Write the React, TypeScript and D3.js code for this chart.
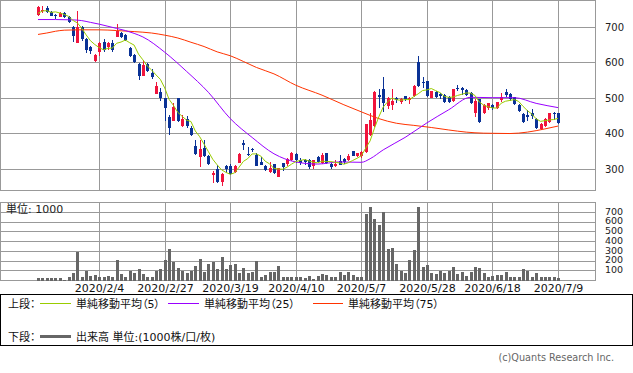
import React from 'react';
import * as d3 from 'd3';

// x-axis ticks: session index -> label
const tickIndex = [14, 29, 44, 59, 74, 89, 104, 119];
const tickLabels = ['2020/2/4', '2020/2/27', '2020/3/19', '2020/4/10', '2020/5/7', '2020/5/28', '2020/6/18', '2020/7/9'];

const priceTicks = [300, 400, 500, 600, 700];
const volumeTicks = [100, 200, 300, 400, 500, 600, 700];

// daily OHLC, 120 sessions
const opens = [
  736, 748, 754, 744, 736, 730, 739, 728, 700, 657,
  702, 667, 645, 605, 631, 659, 644, 657, 674, 683,
  679, 641, 622, 598, 563, 597, 572, 512, 518, 500,
  448, 437, 500, 422, 443, 417, 367, 334, 361, 338,
  285, 302, 265, 310, 310, 293, 319, 373, 344, 357,
  340, 321, 310, 292, 314, 279, 317, 314, 326, 343,
  326, 327, 326, 310, 336, 317, 345, 314, 309, 324,
  328, 327, 352, 338, 338, 348, 397, 422, 509, 525,
  478, 481, 500, 489, 506, 496, 506, 603, 547, 549,
  502, 519, 513, 509, 505, 493, 530, 529, 524, 515,
  459, 497, 459, 472, 481, 474, 495, 519, 512, 503,
  481, 456, 453, 459, 443, 413, 422, 434, 459, 458,
];
const highs = [
  760, 760, 759, 745, 738, 742, 742, 731, 704, 746,
  705, 669, 648, 626, 658, 666, 658, 665, 709, 687,
  682, 645, 625, 600, 608, 600, 583, 546, 528, 502,
  452, 486, 500, 452, 450, 423, 382, 383, 382, 341,
  296, 312, 290, 313, 314, 311, 345, 383, 364, 361,
  345, 335, 313, 321, 316, 305, 319, 331, 349, 347,
  331, 330, 328, 327, 337, 345, 347, 317, 326, 340,
  331, 342, 353, 347, 351, 429, 458, 520, 525, 559,
  505, 525, 505, 502, 508, 505, 537, 619, 559, 550,
  522, 522, 516, 511, 508, 527, 537, 531, 527, 519,
  497, 498, 484, 487, 484, 491, 514, 525, 514, 505,
  484, 458, 467, 471, 446, 432, 446, 459, 461, 459,
];
const lows = [
  733, 740, 741, 732, 723, 729, 727, 713, 660, 657,
  662, 629, 625, 603, 619, 631, 635, 630, 672, 670,
  662, 617, 600, 553, 562, 573, 555, 511, 493, 437,
  397, 435, 434, 420, 417, 393, 340, 306, 334, 312,
  261, 262, 253, 290, 285, 290, 317, 356, 337, 349,
  309, 311, 296, 289, 287, 278, 296, 309, 324, 318,
  312, 312, 302, 302, 318, 314, 314, 302, 307, 311,
  316, 325, 337, 335, 333, 345, 395, 420, 474, 463,
  470, 467, 486, 484, 494, 485, 504, 531, 530, 505,
  500, 502, 497, 486, 488, 490, 521, 509, 506, 483,
  448, 432, 457, 467, 467, 470, 490, 505, 494, 482,
  461, 430, 437, 443, 413, 410, 419, 432, 440, 428,
];
const closes = [
  757, 750, 744, 733, 734, 741, 730, 716, 676, 700,
  667, 636, 633, 622, 657, 636, 657, 636, 690, 674,
  664, 619, 603, 563, 594, 578, 561, 535, 500, 473,
  417, 476, 437, 443, 421, 397, 343, 357, 338, 315,
  289, 265, 287, 302, 288, 310, 343, 370, 341, 354,
  310, 312, 298, 304, 289, 303, 308, 328, 345, 327,
  317, 322, 308, 326, 320, 340, 317, 308, 314, 313,
  321, 338, 339, 345, 350, 428, 439, 519, 505, 487,
  500, 493, 496, 497, 497, 500, 535, 535, 543, 506,
  520, 505, 507, 491, 491, 525, 527, 524, 510, 487,
  493, 434, 481, 486, 472, 490, 503, 509, 497, 484,
  464, 434, 448, 450, 416, 429, 443, 458, 456, 432,
];
// volume, in 1000 shares
const volumes = [
  28, 21, 21, 21, 21, 21, 7, 31, 72, 292,
  41, 96, 45, 52, 41, 41, 45, 41, 206, 62,
  31, 96, 72, 120, 62, 34, 41, 100, 113, 206,
  320, 186, 131, 96, 76, 96, 144, 217, 86, 169,
  189, 113, 237, 113, 158, 169, 76, 124, 76, 86,
  200, 41, 52, 86, 86, 144, 34, 41, 41, 36,
  41, 24, 48, 17, 48, 62, 52, 31, 31, 83,
  52, 86, 52, 31, 31, 681, 753, 630, 568, 702,
  320, 330, 165, 96, 76, 206, 310, 753, 134, 155,
  76, 65, 93, 72, 96, 134, 62, 83, 45, 83,
  134, 124, 76, 31, 45, 52, 52, 83, 38, 41,
  41, 113, 96, 41, 72, 41, 41, 31, 31, 24,
];

// closes before the first visible session (read back from where the 5-day line starts)
const priorCloses = [716, 739, 757, 727];

// 25 / 75 day averages: [session index, value]
const ma25Pts: [number, number][] = [
  [0, 722], [4, 722], [8, 721], [10, 719], [12, 714], [14, 709], [16, 703], [18, 697],
  [20, 691], [22, 683], [24, 673], [29, 630], [34, 576], [39, 517], [44, 443], [49, 390],
  [54, 344], [59, 321], [64, 315], [69, 321], [74, 320], [76, 330], [79, 355], [84, 390],
  [89, 431], [94, 468], [99, 503], [104, 502], [109, 502], [114, 486], [119, 474],
];
const ma75Pts: [number, number][] = [
  [0, 680], [2, 684], [4, 689], [6, 692], [9, 693], [14, 693], [18, 691], [22, 688],
  [26, 684], [29, 678], [32, 670], [35, 658], [38, 646], [41, 631], [44, 620], [47, 604],
  [50, 587], [54, 569], [59, 537], [65, 509], [70, 482], [74, 462], [78, 443], [82, 430],
  [86, 424], [90, 418], [94, 411], [98, 405], [102, 402], [108, 401], [112, 405], [116, 414],
  [119, 422],
];

const FONT = "'DejaVu Sans', 'Noto Sans CJK JP', sans-serif";
const UP = '#f0143c';
const DOWN = '#0a3296';
const GRID = '#999999';
const C5 = '#99cc00';
const C25 = '#9900ff';
const C75 = '#ff3300';
const VOL = '#666666';

const x = d3.scaleLinear().domain([0, closes.length - 1]).range([38, 558]);
const yPrice = d3.scaleLinear().domain([242, 777]).range([190, 0]);
const yVol = d3.scaleLinear().domain([0, 800]).range([280.5, 202.5]);

const px = (v: number) => Math.round(v) + 0.5;
const py = (v: number) => Math.floor(v) + 0.5;

const withPrior = [...priorCloses, ...closes];
const ma5 = closes.map((_, i) => d3.mean(withPrior.slice(i, i + 5)) as number);

const line5 = d3.line<number>().x((_, i) => x(i)).y((v) => yPrice(v));
const linePts = d3
  .line<[number, number]>()
  .x((d) => x(d[0]))
  .y((d) => yPrice(d[1]))
  .curve(d3.curveMonotoneX);

export default function App() {
  const right = 595.5;
  return (
    <svg
      width={633}
      height={373}
      viewBox="0 0 633 373"
      style={{ position: 'absolute', left: 0, top: 0, background: '#fff', fontFamily: FONT }}
    >
      {/* price panel */}
      <g shapeRendering="crispEdges" stroke={GRID} strokeWidth={1}>
        {priceTicks.map((t) => (
          <line key={t} x1={0.5} x2={right} y1={py(yPrice(t))} y2={py(yPrice(t))} />
        ))}
        {tickIndex.map((t) => (
          <line key={t} x1={px(x(t))} x2={px(x(t))} y1={0.5} y2={190.5} />
        ))}
        <rect x={0.5} y={0.5} width={595} height={190} fill="none" />
      </g>

      {/* candles */}
      <g shapeRendering="crispEdges">
        {closes.map((c, i) => {
          const o = opens[i];
          const col = c >= o ? UP : DOWN;
          const cx = Math.round(x(i));
          const top = yPrice(Math.max(o, c));
          const h = Math.max(1, Math.abs(yPrice(o) - yPrice(c)));
          return (
            <g key={i}>
              <line x1={cx + 0.5} x2={cx + 0.5} y1={yPrice(highs[i])} y2={yPrice(lows[i])} stroke={col} />
              <rect x={cx - 1} y={top} width={3} height={h} fill={col} />
            </g>
          );
        })}
      </g>

      {/* moving averages */}
      <path d={linePts(ma75Pts) || ''} fill="none" stroke={C75} strokeWidth={1} />
      <path d={linePts(ma25Pts) || ''} fill="none" stroke={C25} strokeWidth={1} />
      <path d={line5(ma5) || ''} fill="none" stroke={C5} strokeWidth={1} />

      {priceTicks.map((t) => (
        <text key={t} x={605} y={yPrice(t)} dy="0.36em" fontSize={10} fill="#222">
          {t}
        </text>
      ))}

      {/* volume panel */}
      <g shapeRendering="crispEdges" stroke={GRID} strokeWidth={1}>
        {volumeTicks.map((t) => (
          <line key={t} x1={0.5} x2={right} y1={py(yVol(t))} y2={py(yVol(t))} />
        ))}
        {tickIndex.map((t) => (
          <line key={t} x1={px(x(t))} x2={px(x(t))} y1={202.5} y2={280.5} />
        ))}
        <rect x={0.5} y={202.5} width={595} height={78} fill="none" />
      </g>
      <g shapeRendering="crispEdges" fill={VOL}>
        {volumes.map((v, i) => (
          <rect key={i} x={Math.round(x(i)) - 1} y={yVol(v)} width={3} height={yVol(0) - yVol(v)} />
        ))}
      </g>
      <text x={6} y={213} fontSize={11} fill="#222">
        単位: 1000
      </text>
      {volumeTicks.map((t) => (
        <text key={t} x={605} y={yVol(t) - 1} dy="0.36em" fontSize={9.5} fill="#222">
          {t}
        </text>
      ))}

      {/* x-axis labels */}
      {tickIndex.map((t, k) => (
        <text key={t} x={px(x(t))} y={291.5} textAnchor="middle" fontSize={11} fill="#111">
          {tickLabels[k]}
        </text>
      ))}

      {/* legend */}
      <rect x={0.5} y={294.5} width={632} height={51} fill="none" stroke="#000" shapeRendering="crispEdges" />
      <g fontSize={11} fill="#111" style={{ fontFeatureSettings: "'palt'" }}>
        <text x={8} y={307.5}>上段：</text>
        <line x1={40} x2={71} y1={303.5} y2={303.5} stroke={C5} />
        <text x={76} y={307.5}>単純移動平均（5）</text>
        <line x1={168} x2={199} y1={303.5} y2={303.5} stroke={C25} />
        <text x={204} y={307.5}>単純移動平均（25）</text>
        <line x1={313} x2={343} y1={303.5} y2={303.5} stroke={C75} />
        <text x={348} y={307.5}>単純移動平均（75）</text>
        <text x={8} y={340.5}>下段：</text>
        <line x1={40} x2={71} y1={336.5} y2={336.5} stroke={VOL} strokeWidth={3} />
        <text x={76} y={340.5}>出来高 単位:(1000株/口/枚)</text>
      </g>

      <text x={614} y={361} textAnchor="end" fontSize={9.7} fill="#666">
        (c)Quants Research Inc.
      </text>
    </svg>
  );
}
